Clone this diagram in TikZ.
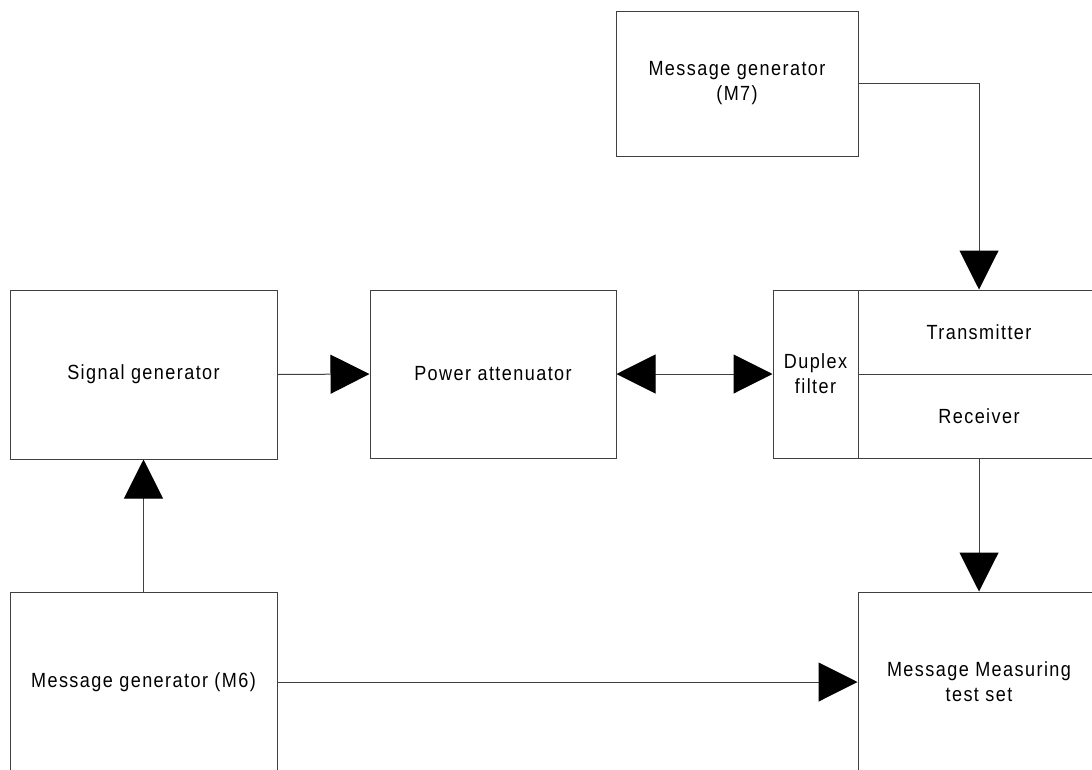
\documentclass[tikz,border=0pt]{standalone}
\usepackage{fontspec}
\setmainfont{Liberation Sans}[LetterSpace=7,FakeStretch=0.88]
\usetikzlibrary{arrows.meta}

\begin{document}
\begin{tikzpicture}[x=1pt,y=-1pt,
		blk/.style={draw=black!75,line width=1pt,inner sep=0pt,align=center,font=\fontsize{20.5}{25}\selectfont},
		conn/.style={draw=black!75,line width=1pt,-{Triangle[length=39pt,width=39pt,fill=black,color=black]}},
		bconn/.style={conn,{Triangle[length=39pt,width=39pt,fill=black,color=black]}-{Triangle[length=39pt,width=39pt,fill=black,color=black]}}]
		\clip (0,0) rectangle (1092,769);
		\useasboundingbox (0,0) rectangle (1092,769);
		\node[blk,minimum width=242pt,minimum height=145pt] (m7) at (737,83.5) {Message generator\\(M7)};
		\node[blk,minimum width=267pt,minimum height=169pt] (siggen) at (143.5,374.5) {Signal generator};
		\node[blk,minimum width=246pt,minimum height=168pt] (att) at (493,374) {Power attenuator};
		\node[blk,minimum width=85pt,minimum height=168pt] (duplex) at (815.5,374) {Duplex\\filter};
		\node[blk,minimum width=242pt,minimum height=84pt] (tx) at (979,332) {Transmitter};
		\node[blk,minimum width=242pt,minimum height=84pt] (rx) at (979,416) {Receiver};
		\node[blk,minimum width=267pt,minimum height=180pt] (m6) at (143.5,682) {Message generator (M6)};
		\node[blk,minimum width=242pt,minimum height=180pt] (meas) at (979,682) {Message Measuring\\test set};
		\draw[conn] (m7.east) -| (tx.north);
		\draw[conn] (siggen.east) -- (att.west);
		\draw[bconn] (att.east) -- (duplex.west);
		\draw[conn] (rx.south) -- (meas.north);
		\draw[conn] (m6.north) -- (siggen.south);
		\draw[conn] (m6.east) -- (meas.west);
	\end{tikzpicture}
\end{document}
